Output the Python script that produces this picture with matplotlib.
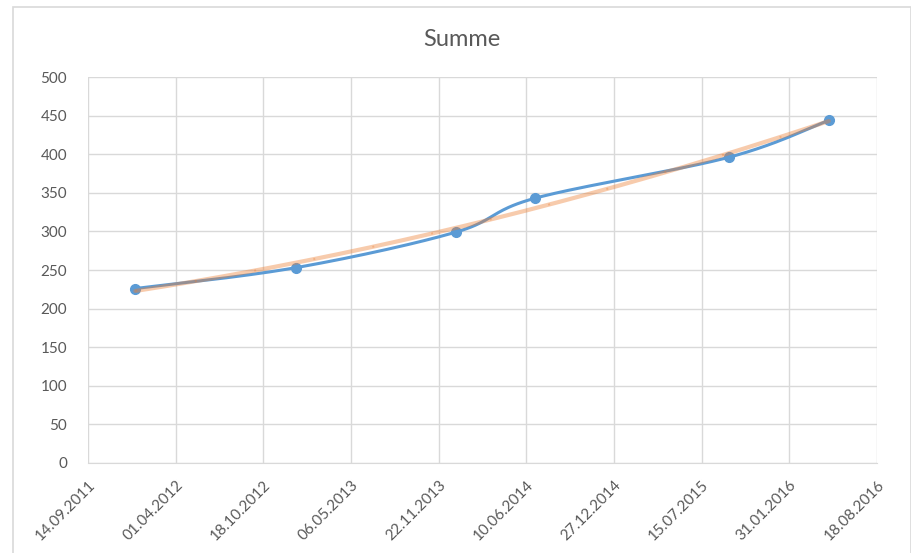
import numpy as np
import pandas as pd
import matplotlib
matplotlib.use("Agg")
import matplotlib.pyplot as plt
import matplotlib.dates as mdates
from matplotlib.patches import Rectangle

# Werte (Summe je Stichtag)
dates = ["31.12.2011", "31.12.2012", "31.12.2013", "30.06.2014", "15.09.2015", "30.04.2016"]
values = [226, 253, 299, 343, 396, 444]

# Achsenbeschriftung: Start und Schrittweite in Tagen
tick_start = "14.09.2011"
tick_step_days = 200
tick_count = 10
y_ticks = [0, 50, 100, 150, 200, 250, 300, 350, 400, 450, 500]

plt.rcParams['font.family'] = ['Lato', 'DejaVu Sans']

text_color = "#595959"
grid_color = "#D9D9D9"
blue = "#5B9BD5"
orange = "#ED7D31"


def smooth_curve(x, y, n=40):
    # Catmull-Rom-Kurve durch alle Punkte (wie "geglättete Linie")
    px = np.concatenate([[x[0]], x, [x[-1]]])
    py = np.concatenate([[y[0]], y, [y[-1]]])
    xs, ys = [], []
    t = np.linspace(0, 1, n)
    for i in range(1, len(px) - 2):
        p0 = np.array([px[i], py[i]])
        p3 = np.array([px[i + 1], py[i + 1]])
        c1 = p0 + (np.array([px[i + 1], py[i + 1]]) - np.array([px[i - 1], py[i - 1]])) / 6
        c2 = p3 - (np.array([px[i + 2], py[i + 2]]) - np.array([px[i], py[i]])) / 6
        b = ((1 - t) ** 3)[:, None] * p0 + (3 * (1 - t) ** 2 * t)[:, None] * c1 \
            + (3 * (1 - t) * t ** 2)[:, None] * c2 + (t ** 3)[:, None] * p3
        xs.append(b[:, 0])
        ys.append(b[:, 1])
    return np.concatenate(xs), np.concatenate(ys)


x = mdates.date2num(pd.to_datetime(dates, format="%d.%m.%Y"))
y = np.array(values, dtype=float)

fig = plt.figure(figsize=(9.12, 5.53), dpi=100)
ax = fig.add_axes([88 / 912, 90 / 553, 789 / 912, 386 / 553])

# Rahmen des Diagrammbereichs
fig.patches.append(Rectangle((13 / 912, -0.1), 898 / 912, 1.1 - 7.5 / 553,
                             transform=fig.transFigure, fill=False,
                             edgecolor=grid_color, lw=1.2))

sx, sy = smooth_curve(x, y)
ax.plot(sx, sy, color=blue, lw=2.2, zorder=3, solid_capstyle="round")
ax.plot(x, y, "o", color=blue, ms=7, zorder=4)

# Trendlinie (Polynom 2. Ordnung)
coef = np.polyfit(x - x[0], y, 2)
tx = np.linspace(x[0], x[-1], 200)
ty = np.polyval(coef, tx - x[0])
ax.plot(tx, ty, color=orange, alpha=0.4, lw=3, zorder=5, solid_capstyle="round")
ax.plot(tx, ty, color=orange, alpha=0.35, lw=1.4, ls=(0, (1, 30)), zorder=5)

start = mdates.date2num(pd.Timestamp(pd.to_datetime(tick_start, format="%d.%m.%Y")))
x_ticks = [start + k * tick_step_days for k in range(tick_count)]
ax.set_xlim(x_ticks[0], x_ticks[-1])
ax.set_ylim(0, 500)
ax.set_xticks(x_ticks)
ax.set_xticklabels([mdates.num2date(v).strftime("%d.%m.%Y") for v in x_ticks],
                   rotation=45, ha="right", va="top", rotation_mode="anchor")
ax.set_yticks(y_ticks)

ax.grid(True, color=grid_color, lw=1)
ax.set_axisbelow(True)
for side in ["left", "right", "top"]:
    ax.spines[side].set_visible(False)
ax.spines["bottom"].set_color(grid_color)
ax.tick_params(length=0, colors=text_color, labelsize=11)
ax.tick_params(axis="y", pad=15)
ax.tick_params(axis="x", pad=11)

fig.text(462 / 912, 1 - 40 / 553, "Summe", ha="center", va="center",
         fontsize=17, color=text_color)

fig.savefig("out.png", dpi=100)
